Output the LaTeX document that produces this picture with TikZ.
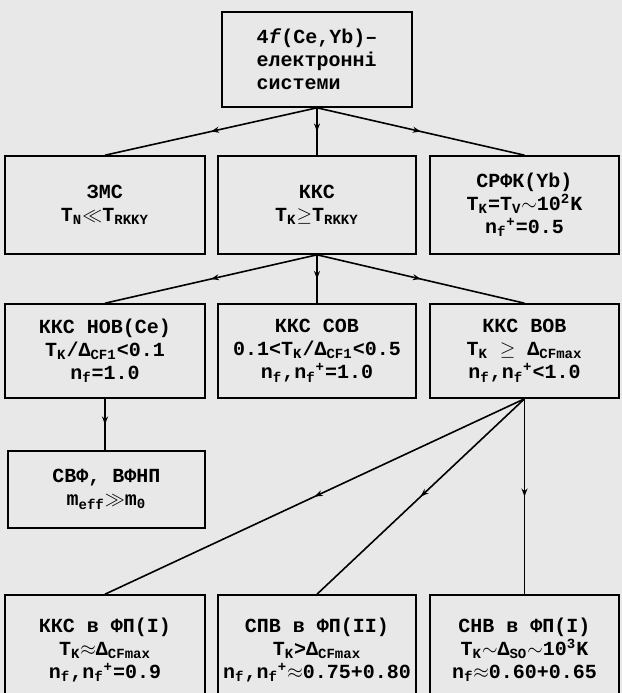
\documentclass[tikz,border=0pt]{standalone}
\usepackage{amssymb}
\usepackage{fontspec}
\setmainfont{Liberation Mono}
\usetikzlibrary{arrows.meta}
\usetikzlibrary{decorations.markings}
\tikzset{box/.style={draw,line width=0.8pt,inner sep=0pt,align=center,font=\bfseries\fontsize{10}{11.5}\selectfont}}
\tikzset{flow/.style={line width=0.8pt,postaction={decorate},decoration={markings,mark=at position 0.5 with {\arrow{Stealth[length=4pt,width=3pt]}}}}}
\newcommand{\lo}[1]{\textsubscript{#1}}
\newcommand{\hi}[1]{\textsuperscript{#1}}

\begin{document}
\begin{tikzpicture}[x=0.5pt,y=-0.5pt]
    \fill[black!9] (0,0) rectangle (622,693);
    \useasboundingbox (0,0) rectangle (622,693);

    \coordinate (C0) at (317,59.5);
    \coordinate (L2) at (105,205);
    \coordinate (M2) at (317,205);
    \coordinate (R2) at (524.5,205);
    \coordinate (L3) at (105,351);
    \coordinate (M3) at (317,351);
    \coordinate (R3) at (524.5,351);
    \coordinate (L4) at (106.5,489.5);
    \coordinate (L5) at (105,650);
    \coordinate (M5) at (317,650);
    \coordinate (R5) at (524.5,650);

    \node[box,align=left,minimum width=95pt,minimum height=47.5pt] (sys) at (C0) {4\textit{f}(Ce,Yb)--\\електронні\\системи};

    \node[box,minimum width=100pt,minimum height=49pt] (zms) at (L2) {ЗМС\\T\lo{N}$\ll$T\lo{RKKY}};
    \node[box,minimum width=99pt,minimum height=49pt] (kks) at (M2) {ККС\\T\lo{K}$\geq$T\lo{RKKY}};
    \node[box,minimum width=94.5pt,minimum height=49pt] (srfk) at (R2) {СРФК(Yb)\\T\lo{K}=T\lo{V}$\sim$10\hi{2}K\\n\lo{f}\hi{+}=0.5};

    \node[box,minimum width=100pt,minimum height=47pt] (nov) at (L3) {ККС НОВ(Ce)\\T\lo{K}/Δ\lo{CF1}<0.1\\n\lo{f}=1.0};
    \node[box,minimum width=99pt,minimum height=47pt] (sov) at (M3) {ККС СОВ\\0.1<T\lo{K}/Δ\lo{CF1}<0.5\\n\lo{f},n\lo{f}\hi{+}=1.0};
    \node[box,minimum width=94.5pt,minimum height=47pt] (vov) at (R3) {ККС ВОВ\\T\lo{K} $\geq$ Δ\lo{CFmax}\\n\lo{f},n\lo{f}\hi{+}<1.0};

    \node[box,minimum width=98.5pt,minimum height=38.5pt] (svf) at (L4) {СВФ, ВФНП\\m\lo{eff}$\gg$m\lo{0}};

    \node[box,minimum width=100pt,minimum height=55pt] (fp1) at (L5) {ККС в ФП(I)\\T\lo{K}$\approx$Δ\lo{CFmax}\\n\lo{f},n\lo{f}\hi{+}=0.9};
    \node[box,minimum width=99pt,minimum height=55pt] (spv) at (M5) {СПВ в ФП(II)\\T\lo{K}>Δ\lo{CFmax}\\n\lo{f},n\lo{f}\hi{+}$\approx$0.75+0.80};
    \node[box,minimum width=94.5pt,minimum height=55pt] (snv) at (R5) {СНВ в ФП(I)\\T\lo{K}$\sim$Δ\lo{SO}$\sim$10\hi{3}K\\n\lo{f}$\approx$0.60+0.65};

    \draw[flow] (sys.south) -- (zms.north);
    \draw[flow] (sys.south) -- (kks.north);
    \draw[flow] (sys.south) -- (srfk.north);
    \draw[flow] (kks.south) -- (nov.north);
    \draw[flow] (kks.south) -- (sov.north);
    \draw[flow] (kks.south) -- (vov.north);
    \draw[flow] (nov.south) -- (nov.south |- svf.north);
    \draw[flow] (vov.south) -- (fp1.north);
    \draw[flow] (vov.south) -- (spv.north);
    \draw[flow] (vov.south) -- (snv.north);
\end{tikzpicture}
\end{document}
